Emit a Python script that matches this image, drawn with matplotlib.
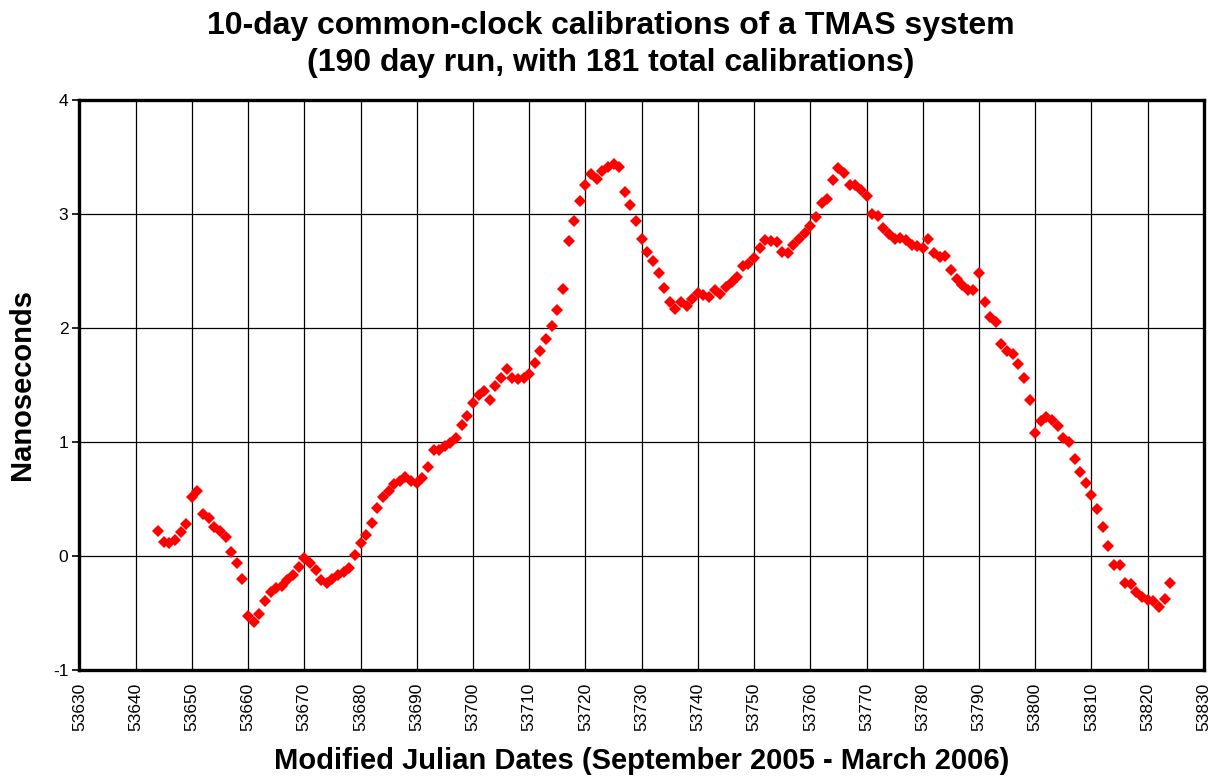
import numpy as np
import matplotlib
matplotlib.use("Agg")
import matplotlib.pyplot as plt

# one calibration per day, MJD 53644 .. 53824
mjd = np.arange(53644, 53825)

ns = [0.22, 0.12, 0.11, 0.14, 0.21, 0.28, 0.52, 0.57, 0.37, 0.33,
      0.25, 0.22, 0.17, 0.035, -0.06, -0.20, -0.53, -0.58, -0.51, -0.40,
      -0.32, -0.28, -0.26, -0.21, -0.17, -0.10, -0.02, -0.06, -0.12, -0.21,
      -0.24, -0.20, -0.17, -0.14, -0.11, 0.01, 0.11, 0.18, 0.29, 0.42,
      0.52, 0.57, 0.635, 0.66, 0.69, 0.66, 0.64, 0.68, 0.78, 0.93,
      0.93, 0.96, 0.99, 1.035, 1.15, 1.23, 1.34, 1.41, 1.45, 1.37,
      1.49, 1.56, 1.64, 1.56, 1.55, 1.56, 1.60, 1.69, 1.80, 1.90,
      2.02, 2.16, 2.34, 2.76, 2.94, 3.11, 3.25, 3.35, 3.31, 3.38,
      3.41, 3.44, 3.41, 3.19, 3.08, 2.94, 2.78, 2.67, 2.59, 2.48,
      2.35, 2.23, 2.17, 2.23, 2.19, 2.25, 2.31, 2.29, 2.27, 2.33,
      2.30, 2.36, 2.40, 2.45, 2.54, 2.56, 2.61, 2.70, 2.77, 2.76,
      2.75, 2.67, 2.66, 2.73, 2.78, 2.83, 2.89, 2.97, 3.10, 3.13,
      3.30, 3.40, 3.36, 3.25, 3.25, 3.21, 3.16, 3.00, 2.98, 2.88,
      2.82, 2.78, 2.79, 2.77, 2.73, 2.72, 2.70, 2.78, 2.66, 2.62,
      2.63, 2.51, 2.43, 2.38, 2.33, 2.33, 2.48, 2.23, 2.10, 2.05,
      1.86, 1.80, 1.77, 1.68, 1.56, 1.37, 1.08, 1.18, 1.22, 1.19,
      1.14, 1.03, 1.00, 0.85, 0.74, 0.64, 0.53, 0.41, 0.25, 0.09,
      -0.08, -0.08, -0.24, -0.25, -0.32, -0.36, -0.39, -0.40, -0.45, -0.38,
      -0.24]

x_ticks = np.arange(53630, 53831, 10)
y_ticks = [-1, 0, 1, 2, 3, 4]

plt.rcParams['font.family'] = ['Liberation Sans', 'DejaVu Sans']

fig = plt.figure(figsize=(12.21, 7.78), dpi=100)
ax = fig.add_axes([0.065, 0.139, 0.921, 0.7325])

ax.plot(mjd, ns, linestyle='none', marker='D', markersize=6.2,
        color='#ff0000', markeredgewidth=0, zorder=3)

ax.set_xlim(53630, 53830)
ax.set_ylim(-1, 4)
ax.set_xticks(x_ticks)
ax.set_yticks(y_ticks)
ax.set_xticklabels([str(t) for t in x_ticks], rotation=90, fontsize=12.5)
ax.set_yticklabels([str(t) for t in y_ticks], fontsize=12.5)
ax.tick_params(axis='x', length=0, pad=9)
ax.tick_params(axis='y', length=5, width=1.2, pad=3)

ax.grid(True, color='black', linewidth=0.9)
ax.set_axisbelow(True)
for s in ax.spines.values():
    s.set_linewidth(2.4)
    s.set_color('black')

ax.set_xlabel('Modified Julian Dates (September 2005 - March 2006)',
              fontsize=21, fontweight='bold', labelpad=12)
ax.set_ylabel('Nanoseconds', fontsize=21, fontweight='bold', labelpad=12)

fig.suptitle('10-day common-clock calibrations of a TMAS system\n'
             '(190 day run, with 181 total calibrations)',
             fontsize=23, fontweight='bold', y=0.986, linespacing=1.3)

fig.savefig('out.png', dpi=100)
